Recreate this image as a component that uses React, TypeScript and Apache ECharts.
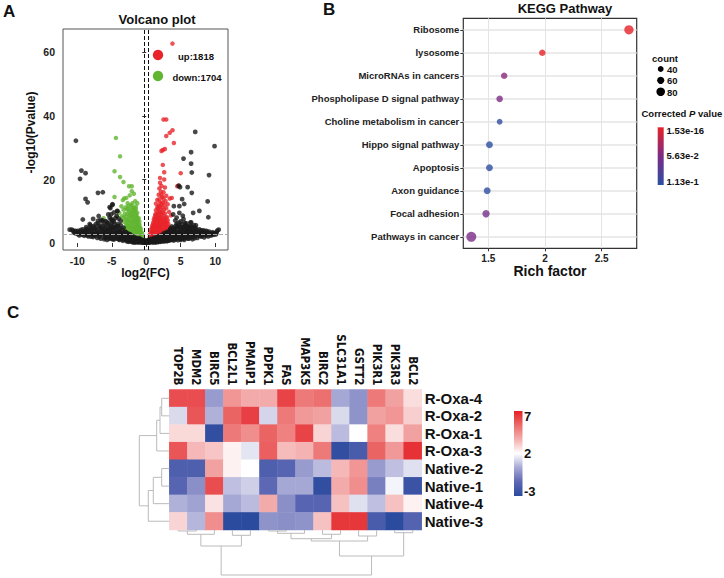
import React, { useEffect, useRef } from "react";
import * as echarts from "echarts";

const FONT = "'Liberation Sans', Arial, sans-serif";
const NARROW = "'Liberation Sans Narrow', 'Arial Narrow', 'DejaVu Sans Condensed', sans-serif";

// ---------------- Panel A: volcano ----------------
const upCount = 1818;
const downCount = 1704;
const volcanoXTicks = [-10, -5, 0, 5, 10];
const volcanoYTicks = [0, 20, 40, 60];
const fcCutoffs = [-0.26, 0.26];
const pCutoff = 2.7;

const volcanoUp: number[][] = [
  [3.8, 62.8], [2.5, 38.9], [2.9, 38.9], [3.8, 35.5], [3.4, 34.7], [2.9, 33.7], [4.0, 31.5],
  [2.7, 29.6], [2.4, 29.3], [2.2, 29.0], [2.4, 24.6], [2.6, 22.3], [5.0, 22.0], [2.0, 20.5],
  [2.6, 20.0], [4.5, 17.9], [4.7, 18.1], [2.0, 19.0], [2.2, 18.0], [1.9, 17.2], [2.7, 17.5],
  [2.1, 16.2], [2.5, 16.0], [3.4, 14.0], [3.7, 14.2], [2.9, 14.9], [1.8, 15.2], [2.3, 14.5],
  [1.6, 13.6], [2.8, 13.2], [3.1, 12.2], [2.0, 12.8], [1.4, 12.4], [2.6, 12.0],
  [0.4, 0.5], [0.6, 0.8], [0.8, 1.0], [1.0, 0.7], [1.2, 1.1], [1.4, 0.9], [1.6, 1.3], [1.8, 1.2],
  [2.0, 1.5], [2.3, 1.7], [2.6, 2.0], [0.5, 1.8], [0.7, 2.2], [0.9, 2.5], [1.1, 2.1], [1.3, 2.6],
  [1.5, 2.3], [1.7, 2.8], [1.9, 2.4], [2.1, 2.9], [2.4, 2.6], [2.8, 3.0], [3.1, 3.3],
  [0.6, 3.1], [0.8, 3.6], [1.0, 3.3], [1.2, 3.9], [1.4, 3.5], [1.6, 4.0], [1.8, 3.7], [2.0, 4.2],
  [2.2, 3.8], [2.5, 4.3], [2.7, 3.9], [3.0, 4.5], [3.3, 4.8], [0.8, 4.8], [1.0, 5.2], [1.2, 4.7],
  [1.4, 5.4], [1.6, 5.0], [1.8, 5.6], [2.0, 5.1], [2.3, 5.5], [2.6, 5.8], [2.9, 5.3], [3.2, 6.0],
  [1.0, 6.4], [1.2, 6.9], [1.4, 6.2], [1.6, 7.1], [1.8, 6.6], [2.0, 7.3], [2.2, 6.8], [2.5, 7.0],
  [2.8, 6.5], [3.1, 7.2], [1.2, 8.1], [1.4, 8.6], [1.6, 7.9], [1.8, 8.8], [2.0, 8.3], [2.2, 9.1],
  [2.5, 8.6], [2.8, 8.0], [1.5, 9.3], [1.9, 9.8], [1.4, 10.3], [1.7, 10.8], [2.0, 10.5], [2.3, 11.2],
  [2.6, 10.6], [1.8, 11.7], [2.2, 12.3], [2.9, 11.0], [3.3, 9.8], [3.6, 8.7],
  [0.5, 1.2], [0.7, 1.5], [0.9, 1.8], [1.1, 1.4], [1.3, 1.9], [1.5, 1.6], [1.7, 2.1], [1.9, 1.8],
  [2.2, 2.2], [2.5, 2.5], [0.6, 2.7], [0.9, 3.0], [1.1, 2.9], [1.3, 3.2], [1.5, 2.9], [1.7, 3.3],
  [1.9, 3.1], [2.1, 3.4], [2.3, 3.1], [2.6, 3.5], [2.9, 3.7], [0.7, 4.1], [0.9, 4.4], [1.1, 4.1],
  [1.3, 4.4], [1.5, 4.6], [1.7, 4.5], [1.9, 4.7], [2.1, 4.5], [2.4, 4.9], [2.8, 4.7], [3.1, 5.2],
  [0.9, 5.6], [1.1, 5.9], [1.3, 5.7], [1.5, 6.0], [1.7, 6.0], [1.9, 6.2], [2.1, 6.0], [2.4, 6.3],
  [2.7, 6.1], [3.0, 6.6], [1.1, 7.4], [1.3, 7.6], [1.5, 7.7], [1.7, 7.4], [1.9, 7.6], [2.1, 7.8],
  [2.4, 7.7], [2.7, 7.3], [3.0, 8.1], [1.3, 9.0], [1.7, 9.3], [2.1, 9.6], [2.4, 9.8], [2.7, 9.3],
  [1.6, 11.3], [2.0, 11.6], [2.4, 12.8], [1.9, 13.8], [2.5, 14.0], [2.2, 15.2],
];

const volcanoDown: number[][] = [
  [-4.4, 33.1], [-3.8, 27.3], [-4.6, 22.6], [-3.8, 20.8], [-3.3, 19.2], [-2.1, 17.9], [-2.5, 17.9],
  [-4.6, 14.5], [-3.2, 14.0], [-3.4, 13.5], [-2.9, 14.2], [-2.1, 16.3], [-1.8, 15.5], [-2.4, 15.0],
  [-1.6, 13.2], [-2.7, 12.5], [-3.6, 11.6], [-2.2, 12.0], [-1.3, 12.5], [-6.2, 7.8], [-4.9, 6.9],
  [-3.9, 9.5], [-4.2, 8.3], [-1.9, 11.0], [-1.5, 11.5],
  [-0.4, 0.6], [-0.6, 0.9], [-0.8, 1.2], [-1.0, 0.8], [-1.2, 1.3], [-1.5, 1.1], [-1.8, 1.5],
  [-2.1, 1.7], [-2.5, 2.1], [-0.5, 2.0], [-0.7, 2.5], [-0.9, 2.2], [-1.1, 2.8], [-1.3, 2.4],
  [-1.6, 2.9], [-1.9, 2.6], [-2.2, 3.0], [-2.6, 3.3], [-2.9, 3.6], [-0.7, 3.4], [-0.9, 3.9],
  [-1.1, 3.5], [-1.3, 4.1], [-1.5, 3.7], [-1.7, 4.3], [-2.0, 3.9], [-2.3, 4.4], [-2.6, 4.8],
  [-2.9, 5.1], [-3.1, 4.6], [-0.9, 5.0], [-1.1, 5.5], [-1.3, 5.1], [-1.5, 5.8], [-1.8, 5.3],
  [-2.0, 6.0], [-2.3, 5.6], [-2.6, 6.3], [-2.9, 6.0], [-3.2, 6.7], [-1.0, 6.8], [-1.2, 7.3],
  [-1.5, 7.0], [-1.7, 7.8], [-2.0, 7.4], [-2.3, 8.1], [-2.6, 7.6], [-2.9, 8.4], [-1.4, 8.5],
  [-1.9, 8.9], [-1.3, 9.5], [-1.6, 10.1], [-1.9, 9.7], [-2.2, 10.4], [-2.5, 9.9], [-1.7, 11.0],
  [-2.1, 11.4], [-2.8, 10.6], [-3.1, 9.2], [-3.5, 8.4],
  [-0.5, 1.3], [-0.7, 1.6], [-0.9, 1.8], [-1.1, 1.5], [-1.3, 1.9], [-1.6, 1.8], [-1.9, 2.1],
  [-2.3, 2.4], [-2.7, 2.7], [-0.6, 3.0], [-0.8, 2.9], [-1.0, 3.2], [-1.2, 3.3], [-1.4, 3.1],
  [-1.6, 3.4], [-1.8, 3.3], [-2.1, 3.5], [-2.4, 3.7], [-2.8, 4.2], [-0.8, 4.4], [-1.0, 4.5],
  [-1.2, 4.6], [-1.4, 4.4], [-1.6, 4.8], [-1.9, 4.7], [-2.2, 5.0], [-2.5, 5.4], [-2.8, 5.6],
  [-1.0, 5.9], [-1.2, 6.2], [-1.4, 6.5], [-1.6, 6.3], [-1.9, 6.6], [-2.2, 6.7], [-2.5, 6.9],
  [-2.8, 7.1], [-1.1, 7.8], [-1.3, 8.0], [-1.6, 8.1], [-1.8, 7.2], [-2.1, 8.4], [-2.4, 8.8],
  [-2.7, 9.1], [-1.5, 9.1], [-1.8, 10.3], [-2.0, 9.0], [-2.3, 9.5], [-2.6, 10.8], [-1.5, 10.6],
  [-2.0, 12.5], [-2.6, 11.7], [-3.0, 11.2], [-3.3, 10.5], [-3.0, 7.5], [-3.3, 8.0],
];

const volcanoNs: number[][] = [
  [-10.2, 32.2], [-9.4, 22.8], [-8.8, 22.0], [-9.6, 20.2], [-8.8, 13.9], [-8.5, 12.8], [-7.0, 15.8],
  [-6.3, 16.0], [7.1, 35.0], [9.9, 30.5], [6.5, 28.6], [6.5, 25.0], [5.4, 26.6], [6.6, 22.2],
  [9.1, 21.4], [4.7, 18.0], [4.9, 17.6], [6.0, 17.6], [6.6, 15.8], [5.2, 13.8], [5.5, 12.3],
  [8.9, 13.1], [4.0, 11.6], [4.8, 11.6], [7.7, 10.1], [6.8, 9.5], [9.0, 8.1], [6.5, 6.5],
  [-7.0, 7.0], [-6.6, 7.3], [-4.9, 12.2], [-4.2, 10.0], [-5.3, 11.3], [-5.1, 9.0], [-7.5, 4.5],
  [-8.2, 6.0],
  [-11.1, 4.2], [-10.8, 4.2], [-10.3, 3.8], [-9.6, 3.5], [-10.0, 2.9], [-9.3, 2.6], [-9.0, 3.2],
  [-8.8, 4.0], [-9.2, 7.4], [-8.6, 2.4], [-8.4, 3.3],
  [-8.0, 2.0], [-8.2, 4.6], [-7.8, 3.0], [-7.6, 5.3], [-7.4, 2.3], [-7.2, 4.1], [-7.0, 6.2],
  [-6.8, 1.9], [-6.8, 3.4], [-6.6, 5.0], [-6.4, 2.6], [-6.3, 7.1], [-6.2, 4.0], [-6.0, 1.6],
  [-6.0, 5.8], [-7.7, 7.6], [-6.9, 8.5],
  [-5.8, 3.2], [-5.7, 6.6], [-5.6, 2.2], [-5.5, 4.7], [-5.4, 1.3], [-5.3, 8.0], [-5.2, 3.6],
  [-5.1, 5.5], [-5.0, 2.5], [-4.9, 7.2], [-4.8, 1.1], [-4.8, 4.2], [-4.7, 9.6], [-4.6, 6.0],
  [-4.5, 3.0], [-4.4, 1.8], [-4.3, 5.1], [-4.2, 10.1], [-4.1, 2.4], [-4.0, 7.7], [-4.0, 4.0],
  [-5.2, 11.0], [-5.5, 9.0], [-4.9, 12.0],
  [-3.9, 1.0], [-3.8, 3.2], [-3.7, 5.6], [-3.6, 2.0], [-3.5, 4.2], [-3.4, 0.7], [-3.3, 2.8],
  [-3.2, 1.5], [-3.1, 3.6], [-3.0, 0.9], [-2.9, 2.2], [-2.8, 1.2], [-2.7, 3.0], [-2.6, 0.6],
  [-2.5, 1.7], [-2.4, 0.9], [-2.3, 2.4], [-2.2, 0.5], [-2.1, 1.4], [-2.0, 0.3], [-3.7, 7.0],
  [-1.9, 1.0], [-1.8, 0.4], [-1.7, 1.8], [-1.6, 0.7], [-1.5, 0.2], [-1.4, 1.3], [-1.3, 0.5],
  [-1.2, 0.9], [-1.1, 0.2], [-1.0, 1.5], [-0.9, 0.6], [-0.8, 0.3], [-0.7, 1.0], [-0.6, 0.4],
  [-0.5, 0.1], [-0.4, 0.8], [-0.3, 0.3], [-0.2, 0.6], [-0.1, 0.2], [0.0, 0.5],
  [0.1, 0.1], [0.2, 0.7], [0.3, 0.3], [0.4, 1.0], [0.5, 0.2], [0.6, 0.6], [0.7, 1.3], [0.8, 0.4],
  [0.9, 0.9], [1.0, 0.2], [1.1, 1.6], [1.2, 0.6], [1.3, 1.1], [1.4, 0.3], [1.5, 1.9], [1.6, 0.8],
  [1.7, 1.4], [1.8, 0.5], [1.9, 2.2], [2.0, 1.0],
  [2.1, 0.4], [2.2, 1.6], [2.3, 2.6], [2.4, 0.8], [2.5, 1.3], [2.6, 3.1], [2.7, 0.6], [2.8, 2.0],
  [2.9, 1.1], [3.0, 3.5], [3.1, 0.7], [3.2, 2.4], [3.3, 1.4], [3.4, 4.0], [3.5, 0.9], [3.6, 2.9],
  [3.7, 5.2], [3.8, 1.7], [3.9, 3.6], [4.0, 0.8], [3.9, 9.0], [4.2, 7.1],
  [4.1, 2.3], [4.2, 4.5], [4.3, 1.2], [4.4, 6.0], [4.5, 3.0], [4.6, 0.9], [4.7, 5.1], [4.8, 2.0],
  [4.9, 3.8], [5.0, 6.8], [5.1, 1.3], [5.2, 4.6], [5.3, 2.6], [5.4, 7.5], [5.5, 1.0], [5.6, 3.4],
  [5.7, 5.6], [5.8, 2.0], [5.9, 4.3], [6.0, 1.4], [4.8, 9.5], [5.3, 8.6], [4.4, 8.0],
  [6.1, 3.1], [6.2, 5.2], [6.3, 1.8], [6.4, 6.4], [6.5, 2.6], [6.6, 4.0], [6.7, 1.2], [6.8, 3.3],
  [6.9, 5.6], [7.0, 2.1], [7.2, 4.4], [7.4, 1.6], [7.6, 3.0], [7.8, 2.3], [8.0, 4.0],
  [8.2, 3.3], [8.4, 1.8], [8.6, 2.6], [8.8, 3.5], [9.0, 2.1], [9.2, 2.9], [9.5, 2.5], [9.8, 3.1],
  [10.1, 2.7], [10.5, 4.2], [10.3, 3.9],
  [-10.5, 3.3], [-10.1, 3.6], [-9.8, 2.8], [-9.5, 4.1], [-9.1, 3.6], [-8.9, 2.7], [-8.7, 5.0],
  [-8.5, 3.8], [-8.3, 2.6], [-8.1, 5.6], [-7.9, 3.9], [-7.7, 2.5], [-7.5, 3.4], [-7.3, 6.0],
  [-7.1, 2.9], [-6.9, 4.6], [-6.7, 2.4], [-6.5, 3.8], [-6.3, 5.4], [-6.1, 2.9], [-5.9, 4.5],
  [-5.9, 1.8], [-5.7, 3.5], [-5.6, 5.8], [-5.4, 2.8], [-5.3, 4.3], [-5.1, 1.9], [-5.0, 6.4],
  [-4.9, 3.4], [-4.7, 2.2], [-4.6, 5.0], [-4.5, 7.8], [-4.3, 3.6], [-4.2, 1.4], [-4.1, 6.0],
  [-3.9, 2.6], [-3.8, 4.6], [-3.7, 1.5], [-3.5, 3.0], [-3.4, 1.9], [-3.3, 4.8], [-3.2, 2.5],
  [-3.0, 1.8], [-2.9, 3.4], [-2.8, 0.5], [-2.7, 2.1], [-2.5, 0.4], [-2.4, 2.8], [-2.3, 1.4],
  [-2.1, 2.3], [-2.0, 1.2], [-1.9, 0.3], [-1.8, 1.3], [-1.7, 0.2], [-1.6, 1.6], [-1.4, 0.6],
  [-1.3, 1.5], [-1.2, 0.3], [-1.1, 1.0], [-1.0, 0.4], [-0.9, 1.3], [-0.8, 0.7], [-0.7, 0.2],
  [-0.6, 0.9], [-0.5, 0.5], [-0.4, 0.3], [-0.3, 0.9], [-0.2, 0.1], [-0.1, 0.6], [0.0, 0.1],
  [0.1, 0.8], [0.2, 0.3], [0.3, 0.7], [0.4, 0.2], [0.5, 0.8], [0.6, 0.3], [0.7, 0.6], [0.8, 1.1],
  [0.9, 0.3], [1.0, 0.9], [1.1, 0.5], [1.2, 1.4], [1.3, 0.2], [1.4, 1.0], [1.5, 0.5], [1.6, 1.6],
  [1.7, 0.3], [1.8, 1.1], [1.9, 0.6], [2.0, 1.9], [2.1, 1.0], [2.2, 0.6], [2.3, 1.3], [2.4, 2.2],
  [2.5, 0.5], [2.6, 1.7], [2.7, 2.6], [2.8, 1.0], [2.9, 2.9], [3.0, 1.6], [3.1, 2.8], [3.2, 1.0],
  [3.3, 3.3], [3.4, 2.0], [3.5, 4.5], [3.6, 1.3], [3.7, 3.4], [3.8, 2.5], [3.9, 4.8], [4.0, 1.9],
  [4.1, 3.7], [4.2, 2.7], [4.3, 5.5], [4.4, 1.6], [4.5, 4.3], [4.6, 2.4], [4.7, 6.4], [4.8, 3.2],
  [4.9, 1.5], [5.0, 4.9], [5.1, 2.7], [5.2, 5.9], [5.3, 1.8], [5.4, 3.6], [5.5, 5.1], [5.6, 2.3],
  [5.7, 4.2], [5.8, 6.2], [5.9, 3.0], [6.0, 4.9], [6.1, 2.0], [6.2, 3.9], [6.3, 5.0], [6.4, 2.8],
  [6.6, 3.3], [6.7, 4.8], [6.8, 2.2], [7.0, 3.6], [7.1, 4.9], [7.3, 2.8], [7.5, 3.9], [7.7, 3.3],
  [7.9, 2.9], [8.1, 2.4], [8.3, 4.0], [8.5, 3.1], [8.7, 2.3], [8.9, 3.0], [9.1, 3.6], [9.3, 2.4],
  [9.6, 3.4], [10.0, 3.2],
  [-10.6, 3.9], [-10.3, 3.1], [-9.9, 3.8], [-9.7, 2.4], [-9.4, 3.0], [-9.2, 4.3], [-9.0, 2.3],
  [-8.9, 3.6], [-8.6, 4.5], [-8.4, 2.1], [-8.2, 3.0], [-8.0, 4.1], [-7.9, 5.0], [-7.7, 1.9],
  [-7.5, 2.7], [-7.4, 4.8], [-7.2, 3.3], [-7.1, 1.6], [-6.9, 3.0], [-6.8, 5.5], [-6.6, 1.4],
  [-6.5, 4.4], [-6.4, 6.8], [-6.2, 3.4], [-6.1, 1.2], [-6.0, 4.7], [-5.9, 6.9], [-5.8, 2.6],
  [-5.7, 1.0], [-5.6, 4.0], [-5.5, 6.2], [-5.4, 3.4], [-5.3, 1.6], [-5.2, 5.0], [-5.1, 7.5],
  [-5.0, 1.3], [-4.9, 4.8], [-4.8, 3.0], [-4.7, 6.8], [-4.6, 1.2], [-4.5, 4.5], [-4.4, 2.8],
  [-4.3, 8.5], [-4.2, 3.3], [-4.1, 5.3], [-4.0, 1.2], [-3.9, 3.6], [-3.8, 2.3], [-3.6, 3.1],
  [-3.5, 1.1], [-3.4, 2.5], [-3.2, 3.3], [-3.1, 1.1], [-2.9, 1.4], [-2.7, 1.5], [-2.6, 2.5],
  [-2.4, 1.7], [-2.2, 1.1], [-2.1, 0.7],
  [2.2, 1.2], [2.5, 2.0], [2.7, 1.2], [2.9, 1.8], [3.0, 0.6], [3.2, 3.0], [3.3, 0.8], [3.5, 2.4],
  [3.6, 3.9], [3.8, 1.0], [3.9, 2.8], [4.0, 4.3], [4.1, 1.3], [4.3, 3.4], [4.4, 2.4], [4.5, 5.2],
  [4.6, 1.6], [4.7, 3.5], [4.8, 5.6], [4.9, 2.6], [5.0, 1.0], [5.1, 3.6], [5.2, 2.1], [5.3, 4.9],
  [5.4, 1.4], [5.5, 3.0], [5.6, 6.3], [5.7, 1.6], [5.8, 3.6], [5.9, 5.3], [6.0, 2.5], [6.1, 4.2],
  [6.2, 1.4], [6.3, 3.5], [6.4, 4.8], [6.5, 1.8], [6.6, 5.2], [6.7, 2.9], [6.9, 4.2], [7.0, 1.5],
  [7.1, 3.0], [7.2, 5.6], [7.4, 3.5], [7.6, 2.2], [7.7, 4.3], [7.9, 3.7], [8.0, 2.0], [8.2, 2.8],
  [8.4, 3.6], [8.7, 3.8], [9.0, 3.2], [9.4, 3.0], [9.8, 2.6], [10.2, 3.3],
];

// ---------------- Panel B: KEGG ----------------
const pathways = [
  "Ribosome", "lysosome", "MicroRNAs in cancers", "Phospholipase D signal pathway",
  "Choline metabolism in cancer", "Hippo signal pathway", "Apoptosis", "Axon guidance",
  "Focal adhesion", "Pathways in cancer",
];
const richFactor = [2.74, 1.976, 1.64, 1.6, 1.6, 1.51, 1.51, 1.49, 1.48, 1.35];
const geneCount = [90, 50, 50, 52, 40, 55, 55, 55, 62, 100];
const correctedP = [1.53e-16, 2e-6, 0.048, 0.055, 0.108, 0.112, 0.111, 0.11, 0.062, 0.058];
const richTicks = [1.5, 2, 2.5];
const countLegend = [40, 60, 80];
const pLegendLabels = ["1.53e-16", "5.63e-2", "1.13e-1"];

// ---------------- Panel C: heatmap ----------------
const genes = [
  "TOP2B", "MDM2", "BIRC5", "BCL2L1", "PMAIP1", "PDPK1", "FAS", "MAP3K5", "BIRC2",
  "SLC31A1", "GSTT2", "PIK3R1", "PIK3R3", "BCL2",
];
const samples = ["R-Oxa-4", "R-Oxa-2", "R-Oxa-1", "R-Oxa-3", "Native-2", "Native-1", "Native-4", "Native-3"];
const expression: number[][] = [
  [6.0, 6.0, 0.0, 4.3, 3.8, 3.8, 6.2, 5.0, 5.2, 0.3, -0.2, 5.0, 4.0, 2.7],
  [1.3, 5.8, 0.5, 5.5, 6.3, 1.2, 5.0, 4.2, 4.0, 1.3, -0.2, 4.0, 4.3, 3.0],
  [2.8, 2.8, -2.8, 5.0, 4.5, 5.5, 4.8, 6.2, 2.9, 0.7, 2.0, 4.8, 2.7, 4.0],
  [5.8, 3.5, 3.2, 2.3, 1.5, 5.6, 3.4, 3.6, 5.0, -2.8, -2.0, 5.5, 4.2, 6.6],
  [-1.8, -1.8, 4.0, 2.3, 2.0, -1.8, -1.5, 0.0, 0.7, 3.5, 4.3, 0.0, 0.8, 1.4],
  [-1.5, -0.3, 6.0, 0.8, 1.1, -1.3, 0.3, 0.3, -2.8, 3.8, 4.5, -0.7, 1.8, -2.5],
  [0.5, 0.2, 2.6, 0.3, 0.7, 3.8, -0.3, -1.5, -1.5, 3.3, 1.4, 0.8, 3.3, 2.3],
  [2.9, 0.6, 4.5, -3.0, -3.0, -0.2, -0.3, -0.2, 3.3, 6.5, 6.5, -2.0, -3.0, -1.6],
];
// hclust-style merges: negative = leaf (1-based display order), positive = earlier merge; third = height
const rowMerges: number[][] = [
  [-1, -2, 7.6], [1, -3, 9.3], [2, -4, 12.6], [-5, -6, 7.6], [4, -7, 16], [5, -8, 21], [3, 6, 30],
];
const colMerges: number[][] = [
  [-1, -2, 1.0], [1, -3, 4.3], [-4, -5, 5.3], [2, 3, 16], [-6, -7, 1.0], [5, -8, 3.3],
  [-9, -10, 4.3], [6, 7, 8.7], [-11, -12, 6.0], [8, 9, 11], [-13, -14, 2.7], [10, 11, 26], [4, 12, 45],
];
const heatTicks = [7, 2, -3];

const HEAT_COLORS = ["#2B4B9F", "#5C67B3", "#A6A8D5", "#FFFFFF", "#F4AFAF", "#EC6B6B", "#E42026"];
const P_COLORS = ["#E62328", "#7C2B86", "#2B4FA3"];

const bubbleSize = (c: number) => 3 + 0.07 * c;

function dendroSegments(merges: number[][], swap: boolean) {
  const pos: number[] = [];
  const hts: number[] = [];
  const segs: { coords: number[][] }[] = [];
  merges.forEach(([a, b, h], i) => {
    const pa = a < 0 ? -a - 1 : pos[a - 1];
    const ha = a < 0 ? 0 : hts[a - 1];
    const pb = b < 0 ? -b - 1 : pos[b - 1];
    const hb = b < 0 ? 0 : hts[b - 1];
    pos[i] = (pa + pb) / 2;
    hts[i] = h;
    const pts = [[pa, ha], [pa, h], [pb, h], [pb, hb]];
    segs.push({ coords: swap ? pts.map(([p, q]) => [q, p]) : pts });
  });
  return segs;
}

const bold = (size: number) => `bold ${size}px ${FONT}`;

function txt(text: string, x: number, y: number, size: number, align = "left", extra: any = {}) {
  return {
    type: "text",
    x,
    y,
    silent: true,
    style: {
      text,
      font: bold(size),
      fill: "#111",
      textAlign: align,
      align,
      textVerticalAlign: "middle",
      verticalAlign: "middle",
      ...extra,
    },
  };
}

export default function App() {
  const ref = useRef<HTMLDivElement>(null);
  useEffect(() => {
    if (!ref.current) return;
    const chart = echarts.init(ref.current, undefined, { renderer: "svg" });

    const heatData: number[][] = [];
    expression.forEach((row, r) => row.forEach((v, c) => heatData.push([c, r, v])));
    const keggData = pathways.map((_, i) => [richFactor[i], i + 1, correctedP[i], geneCount[i]]);

    const axisLabelBase = { fontFamily: FONT, fontWeight: "bold", color: "#222" };

    const graphics: any[] = [
      txt("A", 3, 11, 17),
      txt("B", 323, 9, 17),
      txt("C", 7, 312, 17),
      txt("Volcano plot", 157, 19, 13, "center"),
      txt("KEGG Pathway", 565, 8, 13, "center"),
      { type: "circle", shape: { cx: 158, cy: 55, r: 5.2 }, style: { fill: "#E8242A" }, silent: true },
      { type: "circle", shape: { cx: 158, cy: 76, r: 5.2 }, style: { fill: "#62B531" }, silent: true },
      txt(`up:${upCount}`, 196, 56, 9.5, "center"),
      txt(`down:${downCount}`, 197, 77, 9.5, "center"),
      txt("count", 665, 58, 9.5, "center"),
      {
        type: "text",
        x: 641.5,
        y: 113,
        silent: true,
        style: {
          text: "{a|Corrected }{b|P}{a| value}",
          textVerticalAlign: "middle",
          verticalAlign: "middle",
          rich: {
            a: { font: bold(9.5), fill: "#111", color: "#111" },
            b: { font: `italic bold 9.5px ${FONT}`, fill: "#111", color: "#111" },
          },
        },
      },
      {
        type: "rect",
        shape: { x: 657.7, y: 127.3, width: 6, height: 57.7 },
        silent: true,
        style: {
          fill: new echarts.graphic.LinearGradient(0, 0, 0, 1, [
            { offset: 0, color: P_COLORS[0] },
            { offset: 0.5, color: P_COLORS[1] },
            { offset: 1, color: P_COLORS[2] },
          ]),
        },
      },
      {
        type: "rect",
        shape: { x: 514, y: 411, width: 8.5, height: 85 },
        silent: true,
        style: {
          fill: new echarts.graphic.LinearGradient(
            0, 0, 0, 1,
            HEAT_COLORS.slice().reverse().map((c, i) => ({ offset: i / (HEAT_COLORS.length - 1), color: c }))
          ),
        },
      },
    ];
    countLegend.forEach((c, i) => {
      const cy = 69 + i * 11.35;
      graphics.push({ type: "circle", shape: { cx: 660.7, cy, r: bubbleSize(c) / 2 }, style: { fill: "#000" }, silent: true });
      graphics.push(txt(String(c), 667, cy + 0.5, 9.5));
    });
    pLegendLabels.forEach((l, i) => {
      graphics.push(txt(l, 666.5, 130 + i * 25.8, 9.5));
    });
    heatTicks.forEach((v) => {
      graphics.push(txt(String(v), 524, 416 + ((7 - v) / 10) * 75.5, 13));
    });

    const option: any = {
      animation: false,
      backgroundColor: "#fff",
      textStyle: { fontFamily: FONT },
      grid: [
        { left: 63, top: 29, width: 165, height: 221, show: true, borderColor: "#555", borderWidth: 1, backgroundColor: "transparent" },
        { left: 463.3, top: 18.3, width: 173.4, height: 230, show: true, borderColor: "#333", borderWidth: 1.2, backgroundColor: "transparent" },
        { left: 169.3, top: 389.5, width: 252.4, height: 140.5 },
        { left: 137.3, top: 389.5, width: 32, height: 140.5 },
        { left: 169.3, top: 530, width: 252.4, height: 47 },
      ],
      xAxis: [
        {
          type: "value", gridIndex: 0, min: -12.07, max: 11.85,
          axisLine: { show: false },
          axisTick: { show: true, length: 4, customValues: volcanoXTicks, lineStyle: { color: "#333" } },
          axisLabel: { ...axisLabelBase, fontSize: 10.5, margin: 5, customValues: volcanoXTicks },
          splitLine: { show: false },
          name: "log2(FC)", nameLocation: "middle", nameGap: 14,
          nameTextStyle: { fontFamily: FONT, fontWeight: "bold", fontSize: 12, color: "#111" },
        },
        {
          type: "value", gridIndex: 1, min: 1.2795, max: 2.8086,
          axisLine: { show: false },
          axisTick: { show: true, length: 3, customValues: richTicks, lineStyle: { color: "#333" } },
          axisLabel: { ...axisLabelBase, fontSize: 10, margin: 5, customValues: richTicks, formatter: (v: number) => String(v) },
          splitLine: { show: true, lineStyle: { color: "#E4E4E4", width: 1 } },
          name: "Rich factor", nameLocation: "middle", nameGap: 11,
          nameTextStyle: { fontFamily: FONT, fontWeight: "bold", fontSize: 14, color: "#111" },
        },
        {
          type: "category", gridIndex: 2, data: genes, position: "top",
          axisLine: { show: false }, axisTick: { show: false },
          axisLabel: { fontFamily: NARROW, fontWeight: "bold", color: "#111", fontSize: 11.5, rotate: 90, margin: 4, interval: 0 },
        },
        { type: "value", gridIndex: 3, min: 0, max: 32, inverse: true, show: false },
        { type: "value", gridIndex: 4, min: -0.5, max: 13.5, show: false },
      ],
      yAxis: [
        {
          type: "value", gridIndex: 0, min: -2.2, max: 67.4,
          axisLine: { show: false },
          axisTick: { show: true, length: 4, customValues: volcanoYTicks, lineStyle: { color: "#333" } },
          axisLabel: { ...axisLabelBase, fontSize: 10.5, margin: 8, customValues: volcanoYTicks },
          splitLine: { show: false },
          name: "-log10(Pvalue)", nameLocation: "middle", nameGap: 26,
          nameTextStyle: { fontFamily: FONT, fontWeight: "bold", fontSize: 12, color: "#111", padding: [0, 0, 0, 14] },
        },
        {
          type: "value", gridIndex: 1, min: 0.5, max: 10.5, inverse: true,
          axisLine: { show: false },
          axisTick: { show: true, length: 3, customValues: pathways.map((_, i) => i + 1), lineStyle: { color: "#333" } },
          axisLabel: {
            ...axisLabelBase, fontSize: 9.5, margin: 4,
            customValues: pathways.map((_, i) => i + 1),
            formatter: (v: number) => pathways[Math.round(v) - 1] ?? "",
          },
          splitLine: { show: true, lineStyle: { color: "#E4E4E4", width: 1.5 } },
        },
        {
          type: "category", gridIndex: 2, data: samples, position: "right", inverse: true,
          axisLine: { show: false }, axisTick: { show: false },
          axisLabel: { ...axisLabelBase, color: "#111", fontSize: 15, margin: 3, interval: 0 },
        },
        { type: "value", gridIndex: 3, min: -0.5, max: 7.5, inverse: true, show: false },
        { type: "value", gridIndex: 4, min: 0, max: 47, inverse: true, show: false },
      ],
      visualMap: [
        {
          type: "continuous", show: false, seriesIndex: 4, dimension: 2, min: -3, max: 7,
          inRange: { color: HEAT_COLORS },
        },
        {
          type: "continuous", show: false, seriesIndex: 3, dimension: 2, min: 0, max: 0.113,
          inRange: { color: P_COLORS },
        },
      ],
      series: [
        {
          type: "scatter", xAxisIndex: 0, yAxisIndex: 0, data: volcanoDown, symbolSize: 4.5,
          itemStyle: { color: "#62B531" }, silent: true,
        },
        {
          type: "scatter", xAxisIndex: 0, yAxisIndex: 0, data: volcanoUp, symbolSize: 4.5,
          itemStyle: { color: "#E8242A" }, silent: true,
        },
        {
          type: "scatter", xAxisIndex: 0, yAxisIndex: 0, data: volcanoNs, symbolSize: 4.8,
          itemStyle: { color: "#1A1A1A" }, silent: true,
          markLine: {
            silent: true, symbol: "none", label: { show: false },
            data: [
              ...fcCutoffs.map((v) => ({ xAxis: v, lineStyle: { color: "#111", type: "dashed", width: 1 } })),
              { yAxis: pCutoff, lineStyle: { color: "#AAA", type: "dashed", width: 1 } },
            ],
          },
        },
        {
          type: "scatter", xAxisIndex: 1, yAxisIndex: 1, data: keggData,
          symbolSize: (d: number[]) => bubbleSize(d[3]), silent: true,
        },
        {
          type: "heatmap", xAxisIndex: 2, yAxisIndex: 2, data: heatData, silent: true,
          itemStyle: { borderWidth: 0 },
        },
        {
          type: "lines", coordinateSystem: "cartesian2d", xAxisIndex: 3, yAxisIndex: 3, polyline: true,
          data: dendroSegments(rowMerges, true), silent: true,
          lineStyle: { color: "#BBBBBB", width: 1, opacity: 1 },
        },
        {
          type: "lines", coordinateSystem: "cartesian2d", xAxisIndex: 4, yAxisIndex: 4, polyline: true,
          data: dendroSegments(colMerges, false), silent: true,
          lineStyle: { color: "#BBBBBB", width: 1, opacity: 1 },
        },
      ],
      graphic: graphics,
    };
    chart.setOption(option);
    return () => chart.dispose();
  }, []);

  return <div ref={ref} style={{ position: "fixed", left: 0, top: 0, width: 724, height: 578 }} />;
}
